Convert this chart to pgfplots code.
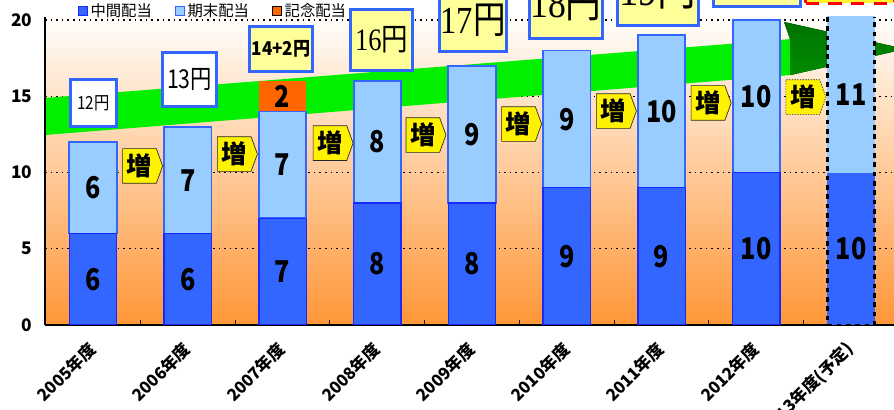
\documentclass[border=0pt]{standalone}
\usepackage{fontspec}
\setmainfont{Noto Sans CJK JP}
\newfontfamily\serifnum{Liberation Serif}
\usepackage{graphicx}
\usepackage{pgfplots}
\pgfplotsset{compat=1.18}
\usetikzlibrary{shapes.symbols}
\definecolor{dblue}{RGB}{51,102,255}
\definecolor{dbord}{RGB}{25,40,255}
\definecolor{lblue}{RGB}{153,204,255}
\definecolor{lbord}{RGB}{51,102,255}
\definecolor{orng}{RGB}{255,102,0}
\definecolor{pyel}{RGB}{255,255,153}
\definecolor{bgbot}{RGB}{255,150,55}
\definecolor{bgmid}{RGB}{255,205,168}
\definecolor{bgtop}{RGB}{255,254,252}
\definecolor{arrowg}{RGB}{0,240,0}
\definecolor{darkg}{RGB}{0,115,0}
\newcommand\bn[1]{\scalebox{0.84}[1]{\bfseries\fontsize{22.5}{22.5}\selectfont #1}}
\tikzset{
  zo/.style={signal, signal to=east, signal pointer angle=140, fill=yellow, draw=black!85, line width=0.5pt,
    minimum width=30pt, minimum height=26pt, inner sep=0.5pt, font=\bfseries\fontsize{19}{19}\selectfont},
  yb/.style={draw=lbord, line width=2.2pt, inner sep=0pt},
}
\pgfplotsset{base/.style={at={(0,0)}, anchor=south west, scale only axis, width=636.75pt, height=231pt,
  xmin=-0.507, xmax=8.453, ymin=0, ymax=20.2}}
\begin{document}
\begin{tikzpicture}
\useasboundingbox (-33.75pt,-63.75pt) rectangle (636.75pt,243.75pt);
% ---------- layer 1: background, grid, arrow
\begin{axis}[base,
  axis background/.style={shade, top color=bgtop, middle color=bgmid, bottom color=bgbot},
  xtick=\empty, ytick={5,10,15,20}, yticklabels={},
  ymajorgrids, major grid style={black, line width=0.9pt, dash pattern=on 1.2pt off 3pt},
  axis line style={draw=none}, tick style={draw=none}, clip=false]
\fill[arrowg] (axis cs:-0.507,14.89) -- (axis cs:7.356,18.75) -- (axis cs:7.293,19.87) -- (axis cs:8.57,18.10) -- (axis cs:7.356,16.39) -- (axis cs:-0.507,12.46) -- cycle;
\fill[top color=darkg, middle color=arrowg, bottom color=green!55!black] (axis cs:7.293,19.87) -- (axis cs:8.57,18.10) -- (axis cs:7.356,16.39) -- (axis cs:7.356,18.75) -- cycle;
\end{axis}
% ---------- layer 2: bars, axes, ticks, legend
\begin{axis}[base,
  ybar stacked, bar width=0.5,
  axis x line*=bottom, axis y line*=left, axis line style={-, black, line width=0.8pt},
  ytick={0,5,10,15,20}, yticklabels={0,5,10,15,20},
  ytick style={draw=none},
  yticklabel style={font=\bfseries\fontsize{13}{13}\selectfont, xshift=-6pt},
  xtick={0,...,8},
  xticklabels={2005年度,2006年度,2007年度,2008年度,2009年度,2010年度,2011年度,2012年度,2013年度(予定)},
  major x tick style={draw=none},
  minor xtick={0.5,1.5,...,7.5},
  minor tick length=4pt, tick align=inside,
  minor x tick style={black!80!brown, line width=0.8pt},
  xticklabel style={font=\bfseries\fontsize{12.5}{12.5}\selectfont, rotate=45, anchor=east, xshift=-8pt, yshift=-11pt},
  legend style={at={(0.198,1.02)}, anchor=center, draw=none, fill=none,
    font=\fontsize{11.5}{13}\selectfont, legend columns=3,
    /tikz/every even column/.append style={column sep=15pt}},
  legend image code/.code={\draw[#1,/tikz/.cd,line width=0.8pt] (0pt,-3.5pt) rectangle (7pt,3.5pt);},
]
\addplot[fill=dblue, draw=dbord, line width=1pt] coordinates {(0,6)(1,6)(2,7)(3,8)(4,8)(5,9)(6,9)(7,10)(8,0)};
\addlegendentry{中間配当}
\addplot[fill=dblue, draw=none, forget plot] coordinates {(0,0)(1,0)(2,0)(3,0)(4,0)(5,0)(6,0)(7,0)(8,10)};
\addplot[fill=lblue, draw=none, forget plot] coordinates {(0,0)(1,0)(2,0)(3,0)(4,0)(5,0)(6,0)(7,0)(8,11)};
\addplot[fill=lblue, draw=lbord, line width=1.4pt] coordinates {(0,6)(1,7)(2,7)(3,8)(4,9)(5,9)(6,10)(7,10)(8,0)};
\addlegendentry{期末配当}
\addplot[fill=orng, draw=none] coordinates {(0,0)(1,0)(2,2)(3,0)(4,0)(5,0)(6,0)(7,0)(8,0)};
\addlegendentry{記念配当}
\end{axis}
% ---------- layer 3: annotations
\begin{axis}[base, hide axis, clip=false]
\draw[black, line width=2.2pt, dash pattern=on 3.5pt off 3.5pt] (axis cs:7.75,20.2) -- (axis cs:7.75,0) -- (axis cs:8.25,0) -- (axis cs:8.25,20.2);
\node at (axis cs:0,3) {\bn{6}};
\node at (axis cs:1,3) {\bn{6}};
\node at (axis cs:2,3.5) {\bn{7}};
\node at (axis cs:3,4) {\bn{8}};
\node at (axis cs:4,4) {\bn{8}};
\node at (axis cs:5,4.5) {\bn{9}};
\node at (axis cs:6,4.5) {\bn{9}};
\node at (axis cs:7,5) {\bn{10}};
\node at (axis cs:8,5) {\bn{10}};
\node at (axis cs:0,9) {\bn{6}};
\node at (axis cs:1,9.5) {\bn{7}};
\node at (axis cs:2,10.5) {\bn{7}};
\node at (axis cs:3,12) {\bn{8}};
\node at (axis cs:4,12.5) {\bn{9}};
\node at (axis cs:5,13.5) {\bn{9}};
\node at (axis cs:6,14) {\bn{10}};
\node at (axis cs:7,15) {\bn{10}};
\node at (axis cs:8,15.1) {\bn{11}};
\node at (axis cs:2,15) {\bn{2}};
\node[yb, fill=white, minimum width=34.5pt, minimum height=35.25pt] at (axis cs:0.005,14.56) {\scalebox{0.85}[1]{\fontsize{13.5}{13.5}\selectfont 12円}};
\node[yb, fill=white, minimum width=40.5pt, minimum height=40.5pt] at (axis cs:1.018,16.1) {\scalebox{0.82}[1]{\fontsize{19.5}{19.5}\selectfont 13円}};
\node[yb, fill=pyel, minimum width=47.25pt, minimum height=33.75pt] at (axis cs:1.984,18.1) {\scalebox{0.9}[1]{\bfseries\fontsize{14.25}{14.25}\selectfont 14+2円}};
\node[yb, fill=pyel, minimum width=46.5pt, minimum height=45.75pt] at (axis cs:3.045,18.69) {\scalebox{0.85}[1]{\fontsize{23.4}{23.4}\selectfont{\serifnum 16}円}};
\node[yb, fill=pyel, minimum width=50.25pt, minimum height=47.25pt] at (axis cs:4.01,20.0) {\scalebox{0.85}[1]{\fontsize{28.7}{28.7}\selectfont{\serifnum 17}円}};
\node[yb, fill=pyel, minimum width=54.75pt, minimum height=53.25pt] at (axis cs:4.99,21.11) {\scalebox{0.85}[1]{\fontsize{31.5}{31.5}\selectfont{\serifnum 18}円}};
\node[yb, fill=pyel, minimum width=60.75pt, minimum height=53.25pt] at (axis cs:5.96,21.97) {\scalebox{0.85}[1]{\fontsize{34}{34}\selectfont{\serifnum 19}円}};
\node[yb, fill=pyel, minimum width=65.25pt, minimum height=54.75pt] at (axis cs:7.01,23.28) {\scalebox{0.85}[1]{\fontsize{36}{36}\selectfont{\serifnum 20}円}};
\node[draw=red, line width=2.4pt, dash pattern=on 10pt off 7pt, fill=yellow!70!pyel, inner sep=0pt, minimum width=66.75pt, minimum height=54.75pt] at (axis cs:7.99,23.48) {\scalebox{0.85}[1]{\fontsize{36}{36}\selectfont{\serifnum 21}円}};
\node[zo] at (axis cs:0.49,10.43) {増};
\node[zo] at (axis cs:1.49,11.21) {増};
\node[zo] at (axis cs:2.50,11.93) {増};
\node[zo] at (axis cs:3.48,12.46) {増};
\node[zo] at (axis cs:4.49,13.18) {増};
\node[zo] at (axis cs:5.49,14.03) {増};
\node[zo] at (axis cs:6.49,14.56) {増};
\node[zo, dash pattern=on 1pt off 1pt] at (axis cs:7.49,14.95) {増};
\end{axis}
\end{tikzpicture}
\end{document}
